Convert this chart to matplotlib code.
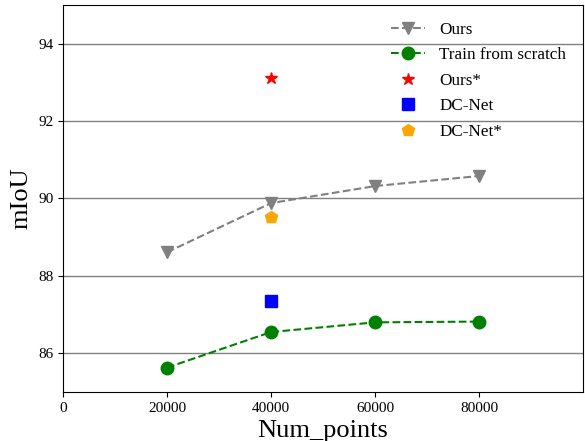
import matplotlib
matplotlib.use("Agg")
import matplotlib.pyplot as plt

plt.rcParams["font.family"] = ["Liberation Serif", "DejaVu Serif"]

num_points = [20000, 40000, 60000, 80000]
ours = [88.61, 89.88, 90.32, 90.58]
scratch = [85.63, 86.55, 86.80, 86.82]

ours_star_x, ours_star_y = [40000], [93.12]
dcnet_x, dcnet_y = [40000], [87.35]
dcnet_star_x, dcnet_star_y = [40000], [89.52]

fig = plt.figure(figsize=(5.85, 4.41), dpi=100)
ax = fig.add_axes([0.1077, 0.111, 0.889, 0.878])

ax.plot(num_points, ours, "--v", color="gray", markersize=9, label="Ours")
ax.plot(num_points, scratch, "--o", color="green", markersize=9, label="Train from scratch")
ax.plot(ours_star_x, ours_star_y, "*", color="red", markersize=9, linestyle="none", label="Ours*")
ax.plot(dcnet_x, dcnet_y, "s", color="blue", markersize=9, linestyle="none", label="DC-Net")
ax.plot(dcnet_star_x, dcnet_star_y, "p", color="orange", markersize=9, linestyle="none", label="DC-Net*")

ax.set_xlim(0, 100000)
ax.set_ylim(85, 95)
ax.set_xticks([0, 20000, 40000, 60000, 80000])
ax.set_yticks([86, 88, 90, 92, 94])
ax.tick_params(labelsize=11)
ax.yaxis.grid(True, color="gray", linewidth=1)
ax.set_axisbelow(True)

ax.set_xlabel("Num_points", fontsize=19)
ax.set_ylabel("mIoU", fontsize=19)
ax.legend(frameon=False, fontsize=12.3, loc="upper right",
          bbox_to_anchor=(1.0, 1.0), borderaxespad=0.6, labelspacing=0.55)

fig.savefig("out.png", dpi=100)
